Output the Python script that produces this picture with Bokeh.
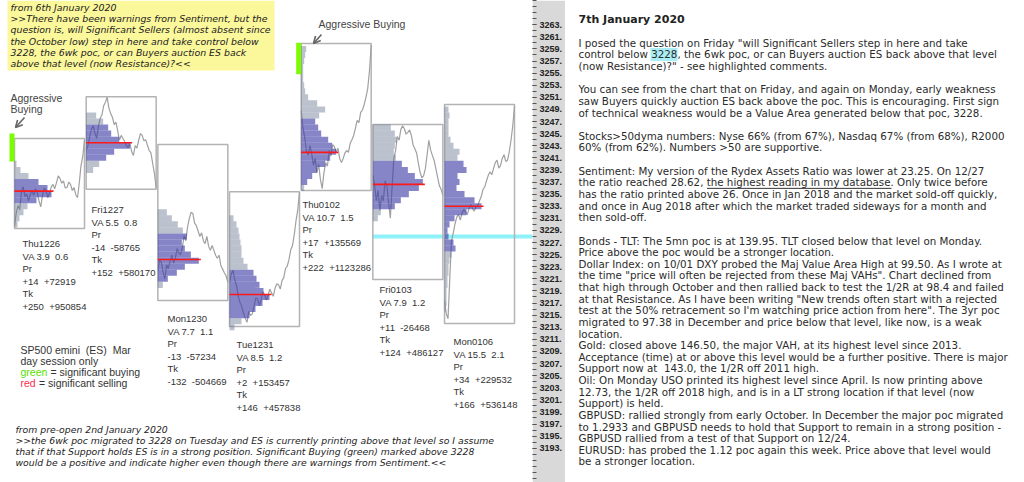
from bokeh.plotting import figure
from bokeh.layouts import row
from bokeh.models import Range1d, LinearAxis, FixedTicker, PrintfTickFormatter, Arrow, OpenHead
from bokeh.embed import file_html
from bokeh.resources import INLINE
from bokeh.core.properties import value

NB = " \u00a0"  # double space that survives svg whitespace collapsing

# ---------------- data ----------------
DAYS = ["Thu1226", "Fri1227", "Mon1230", "Tue1231", "Thu0102", "Fri0103", "Mon0106"]
VA_TEXT = ["VA 3.9  0.6", "VA 5.5  0.8", "VA 7.7  1.1", "VA 8.5  1.2", "VA 10.7  1.5", "VA 7.9  1.2", "VA 15.5  2.1"]
PR_TEXT = ["+14  +72919", "-14  -58765", "-13  -57234", "+2  +153457", "+17  +135569", "+11  -26468", "+34  +229532"]
TK_TEXT = ["+250  +950854", "+152  +580170", "-132  -504669", "+146  +457838", "+222  +1123286", "+124  +486127", "+166  +536148"]

RANGE_HIGH = [3244.2, 3251.1, 3243.2, 3235.4, 3259.9, 3246.5, 3249.8]
RANGE_LOW = [3229.3, 3235.8, 3217.4, 3213.1, 3235.6, 3220.9, 3213.6]
POC = [3235.5, 3243.5, 3224.2, 3218.4, 3241.9, 3236.6, 3233.0]
VA_HIGH = [3237.5, 3246.5, 3228.3, 3222.9, 3247.3, 3240.7, 3240.9]
VA_LOW = [3233.6, 3241.0, 3220.6, 3214.4, 3236.6, 3232.8, 3225.4]

PROF_TOP = [3240, 3248, 3232, 3231, 3259, 3246, 3249]
PROF_VOL = [
    [2, 6, 14, 24, 33, 37, 22, 13, 9, 5, 3],
    [10, 17, 22, 25, 33, 44, 28, 20, 13, 7],
    [9, 14, 20, 25, 29, 24, 27, 33, 41, 27, 19, 10, 5],
    [4, 7, 9, 10, 11, 12, 12, 14, 18, 24, 27, 30, 34, 40, 33, 26, 20, 12, 5],
    [5, 4, 3, 2, 2, 2, 3, 4, 7, 16, 24, 18, 14, 17, 20, 27, 31, 35, 29, 24, 16, 11, 6, 3],
    [18, 22, 24, 22, 21, 23, 29, 35, 42, 50, 46, 36, 28, 22, 8, 5],
    [4, 5, 4, 4, 4, 6, 9, 15, 13, 19, 22, 13, 15, 12, 20, 30, 37, 22, 10, 5, 3, 4, 9, 11, 7, 5, 4, 4, 3, 3, 2, 2, 2, 1],
]

TRACE = [
    [3229.8, 3231.9, 3233.1, 3232.4, 3235.6, 3236.2, 3234.6, 3235.0, 3233.9, 3234.9, 3235.6, 3234.8, 3235.9, 3235.2,
     3233.9, 3232.9, 3234.8, 3236.0, 3235.6, 3234.4, 3235.1, 3236.2, 3236.6, 3235.9, 3236.9, 3238.0, 3237.6, 3236.8,
     3237.2, 3236.0, 3236.1, 3237.0, 3236.6, 3235.6, 3236.1, 3234.9, 3234.4, 3236.8, 3239.7, 3241.2, 3243.9],
    [3242.2, 3243.0, 3244.4, 3245.7, 3246.3, 3245.1, 3244.2, 3246.2, 3247.5, 3248.1, 3249.6, 3250.2, 3251.0, 3249.2,
     3248.3, 3247.7, 3246.5, 3246.9, 3245.5, 3243.9, 3244.7, 3244.2, 3243.7, 3243.0, 3242.7, 3243.4, 3242.0, 3241.4,
     3243.0, 3242.6, 3243.9, 3245.0, 3244.7, 3243.8, 3244.0, 3243.1, 3242.2, 3241.8, 3240.1, 3238.4, 3236.0],
    [3222.4, 3224.1, 3223.7, 3222.1, 3221.0, 3223.3, 3222.7, 3224.0, 3224.9, 3223.6, 3224.4, 3226.0, 3225.3, 3225.0,
     3226.2, 3228.1, 3227.3, 3229.6, 3231.0, 3232.0, 3231.8, 3230.2, 3229.8, 3228.9, 3228.0, 3228.6, 3227.3, 3226.8,
     3228.0, 3226.4, 3225.7, 3226.5, 3225.7, 3224.9, 3224.4, 3224.9, 3223.2, 3222.6, 3222.0, 3221.5, 3220.4],
    [3220.4, 3221.8, 3222.4, 3220.8, 3219.9, 3218.1, 3217.1, 3216.4, 3215.3, 3214.5, 3213.8, 3215.6, 3214.9, 3215.2,
     3216.4, 3217.8, 3217.7, 3216.6, 3217.4, 3218.9, 3218.4, 3217.5, 3218.2, 3219.3, 3218.7, 3218.1, 3219.4, 3220.2,
     3220.0, 3219.3, 3220.7, 3221.2, 3222.7, 3223.1, 3224.2, 3225.8, 3226.5, 3228.3, 3230.6, 3232.4, 3235.3],
    [3248.8, 3246.0, 3244.4, 3242.2, 3241.4, 3243.0, 3241.7, 3239.8, 3240.9, 3238.6, 3239.9, 3237.4, 3235.9, 3238.5,
     3240.2, 3239.6, 3242.2, 3241.3, 3243.2, 3242.8, 3241.9, 3242.6, 3240.9, 3240.2, 3240.9, 3241.8, 3242.2, 3241.9,
     3243.4, 3244.0, 3244.7, 3245.9, 3247.2, 3246.8, 3248.5, 3248.9, 3249.8, 3251.0, 3252.4, 3255.3, 3259.6],
    [3238.1, 3236.5, 3233.9, 3235.6, 3232.3, 3234.8, 3233.9, 3237.2, 3236.4, 3233.5, 3231.0, 3236.2, 3240.9, 3242.2,
     3244.5, 3243.9, 3245.7, 3246.3, 3245.8, 3244.9, 3245.2, 3245.6, 3244.7, 3243.1, 3242.5, 3241.8, 3240.1, 3238.6,
     3237.7, 3238.0, 3239.2, 3241.5, 3243.9, 3242.3, 3241.4, 3240.6, 3239.2, 3237.8, 3236.4, 3235.8, 3234.8],
    [3217.4, 3215.2, 3214.4, 3221.0, 3227.3, 3228.6, 3230.1, 3231.2, 3231.6, 3230.7, 3231.8, 3232.5, 3232.1, 3231.6,
     3232.6, 3233.3, 3232.6, 3232.2, 3232.9, 3233.1, 3233.9, 3234.6, 3235.8, 3236.2, 3237.2, 3238.1, 3238.7, 3238.2,
     3239.2, 3240.2, 3240.6, 3239.3, 3239.7, 3240.9, 3241.5, 3240.4, 3240.6, 3242.0, 3243.9, 3246.3, 3249.6],
]

SIG_BUY_DAY = [0, 4]
SIG_BUY_HIGH = [3245.0, 3260.0]
SIG_BUY_LOW = [3240.4, 3254.8]
POC_6WK = 3228.0
POC_6WK_FROM_DAY = 5

AXIS_TICKS = list(range(3193, 3264, 2))
AXIS_MINOR = list(range(3186, 3268, 1))

YELLOW_NOTE = [
    "from 6th January 2020",
    ">>There have been warnings from Sentiment, but the",
    "question is, will Significant Sellers (almost absent since",
    "the October low) step in here and take control below",
    "3228, the 6wk poc, or can Buyers auction ES back",
    "above that level (now Resistance)?<<",
]
BOTTOM_NOTE = [
    "from pre-open 2nd January 2020",
    ">>the 6wk poc migrated to 3228 on Tuesday and ES is currently printing above that level so I assume",
    "that if that Support holds ES is in a strong position. Significant Buying (green) marked above 3228",
    "would be a positive and indicate higher even though there are warnings from Sentiment.<<",
]
LEGEND_LINES = ["SP500 emini  (ES)  Mar", "day session only"]
LEGEND_KEYS = ["green", "red"]
LEGEND_MEANING = ["= significant buying", "= significant selling"]

TITLE = "7th January 2020"
RIGHT_LINES = [
    'I posed the question on Friday "will Significant Sellers step in here and take',
    'control below 3228, the 6wk poc, or can Buyers auction ES back above that level',
    '(now Resistance)?" - see highlighted comments.',
    '',
    'You can see from the chart that on Friday, and again on Monday, early weakness',
    'saw Buyers quickly auction ES back above the poc. This is encouraging. First sign',
    'of technical weakness would be a Value Area generated below that poc, 3228.',
    '',
    'Stocks>50dyma numbers: Nyse 66% (from 67%), Nasdaq 67% (from 68%), R2000',
    '60% (from 62%). Numbers >50 are supportive.',
    '',
    'Sentiment: My version of the Rydex Assets Ratio was lower at 23.25. On 12/27',
    'the ratio reached 28.62, the highest reading in my database. Only twice before',
    'has the ratio printed above 26. Once in Jan 2018 and the market sold-off quickly,',
    'and once in Aug 2018 after which the market traded sideways for a month and',
    'then sold-off.',
    '',
    'Bonds - TLT: The 5mn poc is at 139.95. TLT closed below that level on Monday.',
    'Price above the poc would be a stronger location.',
    'Dollar Index: on 10/01 DXY probed the Maj Value Area High at 99.50. As I wrote at',
    'the time "price will often be rejected from these Maj VAHs". Chart declined from',
    'that high through October and then rallied back to test the 1/2R at 98.4 and failed',
    'at that Resistance. As I have been writing "New trends often start with a rejected',
    "test at the 50% retracement so I'm watching price action from here\". The 3yr poc",
    'migrated to 97.38 in December and price below that level, like now, is a weak',
    'location.',
    'Gold: closed above 146.50, the major VAH, at its highest level since 2013.',
    'Acceptance (time) at or above this level would be a further positive. There is major',
    'Support now at  143.0, the 1/2R off 2011 high.',
    'Oil: On Monday USO printed its highest level since April. Is now printing above',
    '12.73, the 1/2R off 2018 high, and is in a LT strong location if that level (now',
    'Support) is held.',
    'GBPUSD: rallied strongly from early October. In December the major poc migrated',
    'to 1.2933 and GBPUSD needs to hold that Support to remain in a strong position -',
    'GBPUSD rallied from a test of that Support on 12/24.',
    'EURUSD: has probed the 1.12 poc again this week. Price above that level would',
    'be a stronger location.',
]


def keep_spaces(s):
    return s.replace("  ", NB)


# ---------------- layout helpers ----------------
H = 482
FRAME_W = 532
AXIS_W = 33
PX_PER_PT = 6.05
P_TOP = 3253 + 84.7 / PX_PER_PT
P_BOT = P_TOP - H / PX_PER_PT


def yp(px):
    """price at a pixel row of the picture"""
    return P_TOP - px / PX_PER_PT


DAY_X0, DAY_STEP, BOX_W = 14.0, 71.67, 70.0
VOL_PX = 1.0
LABEL_POS = [(22, 243), (91, 209), (167, 318), (236, 344), (302, 204), (379, 289), (453, 341)]
LABEL_DY = 12.5

TXT = "#333333"
SANS = value("Liberation Sans")
DV = value("DejaVu Sans")

pa = figure(frame_width=FRAME_W, frame_height=H, x_range=Range1d(0, FRAME_W),
            y_range=Range1d(P_BOT, P_TOP), output_backend="svg", toolbar_location=None,
            x_axis_location=None, y_axis_location=None,
            min_border_left=0, min_border_top=0, min_border_bottom=0, min_border_right=AXIS_W)
pa.grid.visible = False
pa.outline_line_color = None
pa.background_fill_color = "white"
pa.border_fill_color = "#d9d9d9"

# yellow note
pa.quad(left=[7], right=[274], top=[yp(0)], bottom=[yp(70)], fill_color="#fbf79b", line_color=None)
pa.text(x=[10] * len(YELLOW_NOTE), y=[yp(7 + 11.2 * i) for i in range(len(YELLOW_NOTE))], text=YELLOW_NOTE,
        text_font=DV, text_font_size=value("9.4px"), text_font_style="italic", text_color="#222222",
        text_baseline="middle")

# 6 week poc line
pa.segment(x0=[DAY_X0 + DAY_STEP * POC_6WK_FROM_DAY], x1=[FRAME_W], y0=[POC_6WK], y1=[POC_6WK],
           line_color="#8ff2f8", line_width=4)

for d in range(len(DAYS)):
    xl = DAY_X0 + DAY_STEP * d
    # frame of the session
    pa.quad(left=[xl], right=[xl + BOX_W], top=[RANGE_HIGH[d]], bottom=[RANGE_LOW[d]],
            fill_color=None, line_color="#b3b3b3", line_width=1.5)
    # price trace
    n = len(TRACE[d])
    xs = [xl + BOX_W * i / (n - 1) for i in range(n)]
    pa.line(xs, TRACE[d], line_color="#a0a0a0", line_width=1.2)
    # profile
    prices = [PROF_TOP[d] - k for k in range(len(PROF_VOL[d]))]
    inva = [VA_LOW[d] <= p <= VA_HIGH[d] for p in prices]
    va_p = [p for p, f in zip(prices, inva) if f]
    va_v = [v for v, f in zip(PROF_VOL[d], inva) if f]
    ou_p = [p for p, f in zip(prices, inva) if not f]
    ou_v = [v for v, f in zip(PROF_VOL[d], inva) if not f]
    pa.quad(left=[xl] * len(va_p), right=[xl + v * VOL_PX for v in va_v],
            top=[p + 0.5 for p in va_p], bottom=[p - 0.5 for p in va_p],
            fill_color="#3a3aa6", fill_alpha=0.62, line_color=None)
    pa.quad(left=[xl] * len(ou_p), right=[xl + v * VOL_PX for v in ou_v],
            top=[p + 0.5 for p in ou_p], bottom=[p - 0.5 for p in ou_p],
            fill_color="#5d6c88", fill_alpha=0.42, line_color=None)
    # poc
    pa.segment(x0=[xl], x1=[xl + max(PROF_VOL[d]) * VOL_PX + 2], y0=[POC[d]], y1=[POC[d]],
               line_color="#ff1a1a", line_width=1.6)
    # labels
    lx, ly = LABEL_POS[d]
    lines = [DAYS[d], VA_TEXT[d], "Pr", PR_TEXT[d], "Tk", TK_TEXT[d]]
    pa.text(x=[lx] * 6, y=[yp(ly + LABEL_DY * i) for i in range(6)], text=[keep_spaces(t) for t in lines],
            text_font=SANS, text_font_size=value("9.5px"), text_color=TXT, text_baseline="middle")

# significant buying
for d, hi, lo in zip(SIG_BUY_DAY, SIG_BUY_HIGH, SIG_BUY_LOW):
    xl = DAY_X0 + DAY_STEP * d
    pa.quad(left=[xl - 5], right=[xl], top=[hi], bottom=[lo], fill_color="#7cfc00", line_color=None)

# aggressive buying annotations
pa.text(x=[10, 10, 318], y=[yp(97), yp(108.5), yp(23)], text=["Aggressive", "Buying", "Aggressive Buying"],
        text_font=SANS, text_font_size=value("10.5px"), text_color="#444444", text_baseline="middle")
for (x0, y0, x1, y1) in [(24, 117, 15, 127), (321, 34, 313, 43)]:
    pa.add_layout(Arrow(end=OpenHead(size=7, line_color="#666666", line_width=1.6),
                        x_start=x0, y_start=yp(y0), x_end=x1, y_end=yp(y1),
                        line_color="#666666", line_width=1.6))

# legend text
pa.text(x=[20, 20], y=[yp(349), yp(360)], text=[keep_spaces(t) for t in LEGEND_LINES], text_font=SANS,
        text_font_size=value("10.5px"), text_color=TXT, text_baseline="middle")
pa.text(x=[20, 20], y=[yp(371), yp(382)], text=LEGEND_KEYS, text_font=SANS,
        text_font_size=value("10.5px"), text_color=["#55e000", "#ff2a4a"], text_baseline="middle")
pa.text(x=[50, 38.5], y=[yp(371), yp(382)], text=LEGEND_MEANING,
        text_font=SANS, text_font_size=value("10.5px"), text_color=TXT, text_baseline="middle")

# bottom note
pa.text(x=[15] * 4, y=[yp(429 + 11 * i) for i in range(4)], text=BOTTOM_NOTE, text_font=DV,
        text_font_size=value("9.3px"), text_font_style="italic", text_color="#222222", text_baseline="middle")

# price axis
ax = LinearAxis(ticker=FixedTicker(ticks=AXIS_TICKS, minor_ticks=AXIS_MINOR),
                formatter=PrintfTickFormatter(format="%d."),
                axis_line_color=None, major_tick_in=0, major_tick_out=4, minor_tick_in=0, minor_tick_out=4,
                major_tick_line_color="#555555", minor_tick_line_color="#555555",
                major_label_text_font="Liberation Sans", major_label_text_font_size="9px",
                major_label_text_font_style="bold", major_label_text_color="#222222",
                major_label_standoff=3)
pa.add_layout(ax, "right")

# ---------------- right text panel ----------------
BW = 1024 - FRAME_W - AXIS_W
pb = figure(width=BW, height=H, x_range=Range1d(0, BW), y_range=Range1d(H, 0), output_backend="svg",
            toolbar_location=None, x_axis_location=None, y_axis_location=None, min_border=0)
pb.grid.visible = False
pb.outline_line_color = None

TX0 = 13
LINE_H = 11.63
Y0 = 42.3
# highlight on 3228 and underline
pb.quad(left=[TX0 + 72], right=[TX0 + 99], top=[Y0 + LINE_H - 6.5], bottom=[Y0 + LINE_H + 6.5],
        fill_color="#a9eef6", line_color=None)
pb.segment(x0=[TX0 + 128.5], x1=[TX0 + 313], y0=[Y0 + 12 * LINE_H + 6], y1=[Y0 + 12 * LINE_H + 6],
           line_color="#333333", line_width=1)
pb.text(x=[TX0], y=[19], text=[TITLE], text_font=DV, text_font_size=value("11px"), text_font_style="bold",
        text_color="#222222", text_baseline="middle")
idx = [i for i, t in enumerate(RIGHT_LINES) if t]
pb.text(x=[TX0] * len(idx), y=[Y0 + LINE_H * i for i in idx], text=[keep_spaces(RIGHT_LINES[i]) for i in idx],
        text_font=DV, text_font_size=value("10.3px"), text_color="#2b2b2b", text_baseline="middle")

layout = row(pa, pb)
open("out.html", "w").write(file_html(layout, INLINE))
